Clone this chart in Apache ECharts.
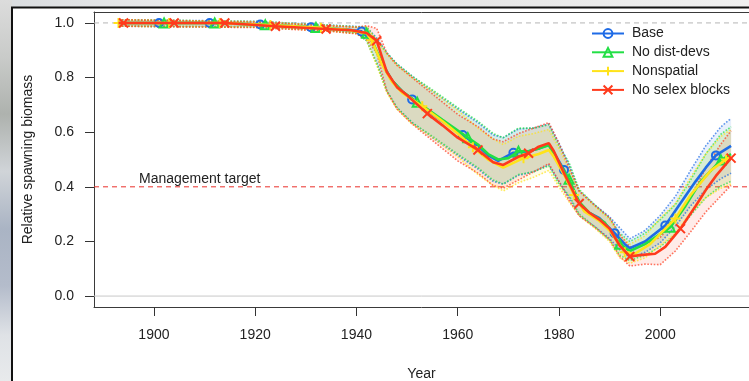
<!DOCTYPE html>
<html><head><meta charset="utf-8">
<script src="https://cdn.jsdelivr.net/npm/echarts@6/dist/echarts.min.js"></script>
<style>html,body{margin:0;padding:0;background:#fff}#c{width:749px;height:381px}</style>
</head><body><div id="c"></div>
<script>
const seriesNames = ['Base', 'No dist-devs', 'Nonspatial', 'No selex blocks'];
const xTicks = [1900, 1920, 1940, 1960, 1980, 2000];
const yTicks = [0, 0.2, 0.4, 0.6, 0.8, 1.0];
const targetLevel = 0.4;
const unfishedLevel = 1.0;
const zeroLevel = 0;
const xRange = [1888.16, 2017.54];

// Base
const baseYears = [1893,1901,1911,1921,1931,1938,1941,1943,1945,1947,1949,1951,1954,1957,1961,1964,1966,1968,1971,1974,1976,1978,1979,1981,1983,1985,1988,1991,1993,1994,1997,2001,2004,2007,2009,2011,2014];
const baseValues = [1.0,1.0,1.0,0.994,0.984,0.976,0.969,0.935,0.855,0.79,0.75,0.72,0.68,0.64,0.59,0.55,0.515,0.495,0.525,0.53,0.54,0.555,0.525,0.462,0.375,0.315,0.285,0.23,0.19,0.175,0.2,0.258,0.34,0.42,0.47,0.515,0.55];
const baseMarkYears = [1901,1911,1921,1931,1941,1951,1961,1971,1981,1991,2001,2011];

// No dist-devs
const distYears = [1893,1902,1912,1922,1932,1938,1942,1943,1945,1947,1949,1952,1954,1957,1962,1964,1966,1968,1970,1972,1974,1976,1978,1979,1982,1984,1986,1989,1992,1994,1997,2002,2005,2008,2012,2014];
const distValues = [1.0,1.0,1.0,0.993,0.983,0.975,0.962,0.937,0.855,0.79,0.75,0.71,0.685,0.645,0.58,0.555,0.52,0.5,0.505,0.53,0.53,0.54,0.552,0.52,0.428,0.345,0.305,0.27,0.19,0.165,0.19,0.252,0.33,0.42,0.498,0.52];
const distMarkYears = [1902,1912,1922,1932,1942,1952,1962,1972,1982,1992,2002,2012];

// Nonspatial
const nonspYears = [1893,1903,1913,1923,1933,1938,1942,1943,1945,1947,1949,1953,1957,1960,1963,1966,1969,1973,1976,1978,1979,1981,1983,1985,1988,1990,1993,1995,1998,2003,2006,2010,2013,2014];
const nonspValues = [1.0,1.0,1.0,0.992,0.982,0.975,0.962,0.937,0.85,0.785,0.745,0.695,0.64,0.595,0.545,0.5,0.47,0.505,0.52,0.535,0.51,0.445,0.37,0.31,0.275,0.24,0.16,0.155,0.19,0.284,0.37,0.46,0.5,0.51];
const nonspMarkYears = [1893,1903,1913,1923,1933,1943,1953,1963,1973,1983,1993,2003,2013];

// No selex blocks
const selexYears = [1893,1894,1904,1914,1924,1934,1939,1942,1944,1946,1948,1950,1954,1957,1960,1964,1967,1969,1972,1974,1976,1978,1979,1981,1984,1986,1988,1990,1992,1994,1996,1999,2001,2004,2007,2009,2011,2014];
const selexValues = [1.0,1.0,1.0,1.0,0.988,0.978,0.973,0.963,0.935,0.82,0.765,0.735,0.668,0.625,0.58,0.535,0.49,0.48,0.51,0.523,0.547,0.56,0.53,0.45,0.339,0.305,0.28,0.247,0.185,0.145,0.15,0.155,0.18,0.247,0.33,0.388,0.44,0.505];
const selexMarkYears = [1894,1904,1914,1924,1934,1944,1954,1964,1974,1984,1994,2004,2014];

// uncertainty intervals
const bandYears = [1893,1920,1935,1940,1942,1944,1946,1948,1951,1955,1960,1964,1967,1969,1972,1975,1978,1980,1982,1984,1987,1990,1992,1994,1997,2000,2003,2006,2009,2012,2014];
const baseUpper  = [1.012,1.006,0.992,0.987,0.985,0.945,0.89,0.85,0.805,0.75,0.685,0.635,0.59,0.58,0.612,0.615,0.63,0.56,0.48,0.385,0.335,0.29,0.25,0.21,0.24,0.295,0.365,0.46,0.55,0.62,0.65];
const baseLower  = [0.988,0.986,0.972,0.963,0.935,0.855,0.75,0.69,0.635,0.58,0.515,0.465,0.42,0.41,0.442,0.455,0.48,0.42,0.36,0.295,0.255,0.21,0.17,0.14,0.16,0.195,0.255,0.33,0.39,0.43,0.45];
const distUpper  = [1.012,1.005,0.991,0.986,0.985,0.94,0.89,0.85,0.805,0.755,0.69,0.64,0.595,0.58,0.615,0.615,0.627,0.55,0.488,0.39,0.335,0.285,0.23,0.2,0.23,0.28,0.335,0.425,0.52,0.593,0.62];
const distLower  = [0.988,0.985,0.971,0.962,0.935,0.85,0.75,0.69,0.635,0.585,0.52,0.47,0.425,0.41,0.445,0.455,0.477,0.41,0.368,0.3,0.255,0.205,0.15,0.13,0.15,0.18,0.225,0.295,0.36,0.403,0.42];
const nonspUpper = [1.012,1.005,0.99,0.985,0.987,0.935,0.885,0.845,0.8,0.75,0.68,0.615,0.575,0.555,0.585,0.595,0.61,0.54,0.465,0.385,0.33,0.28,0.22,0.19,0.22,0.285,0.339,0.435,0.52,0.585,0.61];
const nonspLower = [0.988,0.985,0.97,0.961,0.937,0.845,0.745,0.685,0.63,0.58,0.51,0.445,0.405,0.385,0.415,0.435,0.46,0.4,0.345,0.295,0.25,0.2,0.14,0.12,0.14,0.185,0.229,0.305,0.36,0.395,0.41];
const selexUpper = [1.012,1.003,0.989,0.984,0.99,0.98,0.89,0.845,0.8,0.74,0.665,0.62,0.575,0.565,0.595,0.615,0.635,0.56,0.47,0.384,0.333,0.287,0.225,0.18,0.192,0.215,0.275,0.365,0.468,0.557,0.605];
const selexLower = [0.988,0.983,0.969,0.96,0.94,0.89,0.75,0.685,0.63,0.57,0.495,0.45,0.405,0.395,0.425,0.455,0.485,0.42,0.35,0.294,0.253,0.207,0.145,0.11,0.117,0.115,0.165,0.235,0.308,0.367,0.405];

const colors = ['#1E6BE6', '#22DF45', '#FFE31A', '#FF3A1C'];
const FONT = '"Liberation Sans", Arial, sans-serif';

const defs = [
  {years: baseYears, values: baseValues, marks: baseMarkYears, up: baseUpper, lo: baseLower,
   symbol: 'circle', size: 8},
  {years: distYears, values: distValues, marks: distMarkYears, up: distUpper, lo: distLower,
   symbol: 'path://M5,0L10,9L0,9Z', size: 9},
  {years: nonspYears, values: nonspValues, marks: nonspMarkYears, up: nonspUpper, lo: nonspLower,
   symbol: 'path://M5,0L5,10M0,5L10,5', size: 10},
  {years: selexYears, values: selexValues, marks: selexMarkYears, up: selexUpper, lo: selexLower,
   symbol: 'path://M0,0L10,10M10,0L0,10', size: 9}
];

const series = [];
// horizontal reference lines drawn as plain two-point line series
function refSeries(level, color, type) {
  return {
    type: 'line', silent: true, z: 0, symbol: 'none',
    data: [[xRange[0], level], [xRange[1], level]],
    lineStyle: {color: color, type: type, width: 1, opacity: 1},
    emphasis: {disabled: true}
  };
}
series.push(refSeries(unfishedLevel, '#b5b5b5', [5, 4]));
series.push(refSeries(zeroLevel, '#c8c8c8', 'solid'));
series.push(refSeries(targetLevel, '#ea2f2a', [5, 4]));

// bands: filled polygon + dotted borders
defs.forEach((d, k) => {
  const c = colors[k];
  series.push({
    type: 'custom', silent: true, z: 1,
    data: bandYears.map((y, i) => [y, d.lo[i], d.up[i]]),
    renderItem: (params, api) => {
      if (params.dataIndex !== 0) return null;
      const pts = [];
      for (let i = 0; i < bandYears.length; i++) pts.push(api.coord([bandYears[i], d.up[i]]));
      for (let i = bandYears.length - 1; i >= 0; i--) pts.push(api.coord([bandYears[i], d.lo[i]]));
      return {type: 'polygon', shape: {points: pts}, style: {fill: c, opacity: 0.1}};
    }
  });
  [d.up, d.lo].forEach(arr => {
    series.push({
      type: 'line', silent: true, z: 2, symbol: 'none',
      data: bandYears.map((y, i) => [y, arr[i]]),
      lineStyle: {color: c, width: 1.6, type: 'dotted', opacity: 0.7}
    });
  });
});
// main lines
defs.forEach((d, k) => {
  const c = colors[k];
  series.push({
    name: seriesNames[k], type: 'line', z: 3 + k,
    symbol: d.symbol, symbolSize: d.size, showSymbol: true, showAllSymbol: true,
    data: d.years.map((y, i) => d.marks.includes(y)
      ? {value: [y, d.values[i]]}
      : {value: [y, d.values[i]], symbol: 'none'}),
    lineStyle: {color: c, width: 2.6},
    itemStyle: {color: 'rgba(255,255,255,0)', borderColor: c, borderWidth: 2},
    emphasis: {disabled: true}
  });
});

const chart = echarts.init(document.getElementById('c'), null, {renderer: 'canvas'});
chart.setOption({
  animation: false,
  backgroundColor: '#ffffff',
  grid: {left: 94, top: 12, width: 655, height: 295, show: false,
         containLabel: false, outerBoundsMode: 'none'},
  xAxis: [{
    type: 'value', min: xRange[0], max: xRange[1],
    name: 'Year', nameLocation: 'middle', nameGap: 60,
    nameTextStyle: {fontFamily: FONT, fontSize: 14, color: '#222'},
    axisLine: {show: true, onZero: false, lineStyle: {color: '#3a3a3a', width: 1}},
    splitLine: {show: false},
    axisTick: {show: true, customValues: xTicks, length: 9, inside: false,
               lineStyle: {color: '#333', width: 1}},
    axisLabel: {customValues: xTicks, margin: 21, fontFamily: FONT, fontSize: 14, color: '#222',
                formatter: v => String(v)}
  }, {
    type: 'value', position: 'top', min: xRange[0], max: xRange[1],
    axisLine: {show: true, onZero: false, lineStyle: {color: '#3a3a3a', width: 1}},
    axisTick: {show: false}, axisLabel: {show: false}, splitLine: {show: false}
  }],
  yAxis: {
    type: 'value', min: -0.04, max: 1.04,
    name: 'Relative spawning biomass', nameLocation: 'middle', nameGap: 59,
    nameTextStyle: {fontFamily: FONT, fontSize: 14, color: '#222'},
    axisLine: {show: true, onZero: false, lineStyle: {color: '#3a3a3a', width: 1}},
    splitLine: {show: false},
    axisTick: {show: true, customValues: yTicks, length: 9, inside: false,
               lineStyle: {color: '#333', width: 1}},
    axisLabel: {customValues: yTicks, margin: 20, fontFamily: FONT, fontSize: 14, color: '#222',
                formatter: v => v.toFixed(1)}
  },
  legend: {
    data: seriesNames, orient: 'vertical', left: 586, top: 20.5,
    itemWidth: 32, itemHeight: 11, itemGap: 2.8, selectedMode: false,
    textStyle: {fontFamily: FONT, fontSize: 14, color: '#222', lineHeight: 16, padding: [0, 0, 0, 3]}
  },
  graphic: [
    {type: 'rect', z: 100, silent: true, shape: {x: 0, y: 0, width: 749, height: 7},
     style: {fill: {type: 'linear', x: 0, y: 0, x2: 1, y2: 0, colorStops: [
       {offset: 0, color: '#d9dcdf'}, {offset: 0.3, color: '#eeeeee'}, {offset: 0.6, color: '#e6e6e6'}, {offset: 1, color: '#f0f0f0'}]}}},
    {type: 'rect', z: 100, silent: true, shape: {x: 0, y: 0, width: 12, height: 381},
     style: {fill: {type: 'linear', x: 0, y: 0, x2: 0, y2: 1, colorStops: [
       {offset: 0, color: '#dcdcdc'}, {offset: 0.15, color: '#c9cbc9'}, {offset: 0.3, color: '#aeb2ae'},
       {offset: 0.45, color: '#d0d4d8'}, {offset: 0.6, color: '#aab4c4'}, {offset: 0.75, color: '#b4bccb'},
       {offset: 0.88, color: '#dfe2e6'}, {offset: 1, color: '#e8eaec'}]}}},
    {type: 'line', z: 101, silent: true, shape: {x1: 11, y1: 7.5, x2: 749, y2: 7.5},
     style: {stroke: '#111', lineWidth: 2}},
    {type: 'line', z: 101, silent: true, shape: {x1: 12, y1: 7, x2: 12, y2: 381},
     style: {stroke: '#111', lineWidth: 2}},
    {type: 'text', z: 100, silent: true, x: 139, y: 179,
     style: {text: 'Management target', fontFamily: FONT, fontSize: 14, fill: '#222',
             textAlign: 'left', textVerticalAlign: 'middle'}}
  ],
  series: series
});
</script></body></html>
